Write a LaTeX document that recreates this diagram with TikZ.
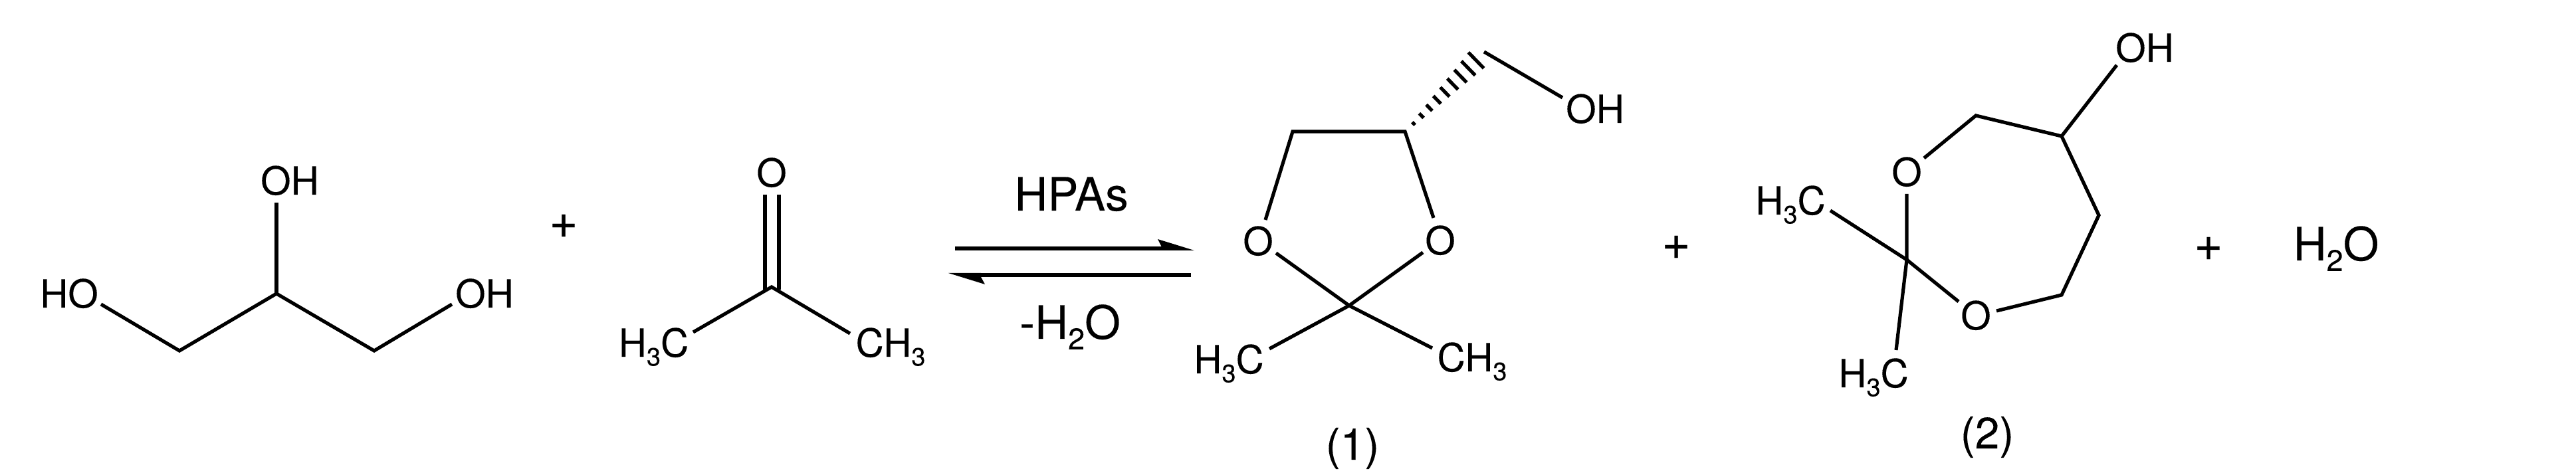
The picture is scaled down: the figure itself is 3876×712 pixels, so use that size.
\documentclass[tikz,border=0pt]{standalone}
\usepackage{fontspec}
\setmainfont[FakeBold=0.15]{TeX Gyre Heros}
\newcommand{\sbs}[1]{\raisebox{-.23em}{\scalebox{.65}{#1}}}
\tikzset{
  bond/.style={line width=1.3pt,line cap=butt,line join=miter},
  hashbar/.style={line width=1.3pt},
  lbl/.style={inner sep=0pt,anchor=base,font=\fontsize{14.6pt}{16pt}\selectfont},
  biglbl/.style={inner sep=0pt,anchor=base,font=\fontsize{17.3pt}{20pt}\selectfont},
  pluslbl/.style={inner sep=0pt,anchor=base,font=\fontsize{18.5pt}{20pt}\selectfont},
  numlbl/.style={inner sep=0pt,anchor=base,font=\fontsize{16.5pt}{18pt}\selectfont},
  arrowline/.style={line width=1.5pt},
  barb/.style={fill=black,draw=none}
}
\begin{document}
\begin{tikzpicture}[x=.25pt,y=-.25pt]
\useasboundingbox (0,0) rectangle (3876,712);

% Glycerol
\node[lbl] (gHO) at (104,463) {HO};
\node[lbl] (gOHt) at (436,293) {OH};
\node[lbl] (gOHr) at (729,463) {OH};
\coordinate (g1) at (152,458);
\coordinate (g2) at (270,528);
\coordinate (g3) at (416,442);
\coordinate (g4) at (563,528);
\coordinate (g5) at (680,458);
\coordinate (g6) at (416,305);
\draw[bond] (g1) -- (g2) -- (g3) -- (g4) -- (g5);
\draw[bond] (g3) -- (g6);
\node[pluslbl] (plus1) at (848,358) {+};

% Acetone
\node[lbl] (aO) at (1161,281) {O};
\node[lbl] (aL) at (983.5,537) {H\sbs{3}C};
\node[lbl] (aR) at (1340,537) {CH\sbs{3}};
\coordinate (a0) at (1161,432);
\coordinate (aL1) at (1043,500);
\coordinate (aR1) at (1279,502);
\coordinate (d1a) at (1151,293);
\coordinate (d1b) at (1151,436);
\coordinate (d2a) at (1172,293);
\coordinate (d2b) at (1172,436);
\draw[bond] (aL1) -- (a0) -- (aR1);
\draw[bond] (d1a) -- (d1b);
\draw[bond] (d2a) -- (d2b);

% Equilibrium arrows
\node[biglbl] (hpa) at (1612,317) {HPAs};
\node[biglbl] (mh2o) at (1610,510) {-H\sbs{2}O};
\coordinate (t0) at (1437,374);
\coordinate (t1) at (1750,374);
\coordinate (b0) at (1792,414);
\coordinate (b1) at (1474,414);
\draw[arrowline] (t0) -- (t1);
\draw[arrowline] (b0) -- (b1);
\fill[barb] (1797,377) -- (1742,360) -- (1748,372) -- (1748,377) -- cycle;
\fill[barb] (1427,411) -- (1482,428) -- (1476,417) -- (1476,411) -- cycle;

% Product 1
\node[lbl] (pOl) at (1893,384) {O};
\node[lbl] (pOr) at (2167,383) {O};
\node[lbl] (pL) at (1849,562) {H\sbs{3}C};
\node[lbl] (pR) at (2215,559) {CH\sbs{3}};
\node[lbl] (pOH) at (2400,185) {OH};
\node[numlbl] (n1) at (2035,692) {(1)};
\coordinate (p5) at (1945,198);
\coordinate (p4) at (2114,198);
\coordinate (p2) at (2030,460);
\coordinate (pa) at (1904,331);
\coordinate (pb) at (2157,328);
\coordinate (pc) at (1920,381);
\coordinate (pd) at (2141,380);
\coordinate (pe) at (1910,525);
\coordinate (pf) at (2155,524);
\coordinate (pg) at (2233,78);
\coordinate (ph) at (2351,147);
\draw[bond] (pa) -- (p5) -- (p4) -- (pb);
\draw[bond] (pc) -- (p2) -- (pd);
\draw[bond] (pe) -- (p2) -- (pf);
\draw[bond] (pg) -- (ph);
\foreach \i in {0,...,8}{
  \pgfmathsetmacro{\cx}{2127+\i*11.75}
  \pgfmathsetmacro{\cy}{186-\i*11.9}
  \pgfmathsetmacro{\hl}{3+\i*1.7}
  \draw[hashbar] (\cx-0.7*\hl,\cy-0.72*\hl) -- (\cx+0.7*\hl,\cy+0.72*\hl);
}
\node[pluslbl] (plus2) at (2522,390) {+};

% Product 2
\node[lbl] (qOH) at (3227,93) {OH};
\node[lbl] (qOt) at (2869,280) {O};
\node[lbl] (qOb) at (2973,496) {O};
\node[lbl] (qL1) at (2694,323) {H\sbs{3}C};
\node[lbl] (qL2) at (2819,583) {H\sbs{3}C};
\node[numlbl] (n2) at (2990,675) {(2)};
\coordinate (q1) at (3185,98);
\coordinate (q2) at (3102,205);
\coordinate (q3) at (2973,174);
\coordinate (q4) at (2895,238);
\coordinate (q5) at (3158,324);
\coordinate (q6) at (3102,444);
\coordinate (q7) at (3004,468);
\coordinate (q8) at (2869,391);
\coordinate (q9) at (2869,292);
\coordinate (q10) at (2947,454);
\coordinate (q11) at (2754,317);
\coordinate (q12) at (2853,527);
\draw[bond] (q1) -- (q2);
\draw[bond] (q4) -- (q3) -- (q2) -- (q5) -- (q6) -- (q7);
\draw[bond] (q9) -- (q8) -- (q10);
\draw[bond] (q11) -- (q8) -- (q12);
\node[pluslbl] (plus3) at (3323,392) {+};
\node[biglbl] (water) at (3515,392) {H\sbs{2}O};
\end{tikzpicture}
\end{document}
